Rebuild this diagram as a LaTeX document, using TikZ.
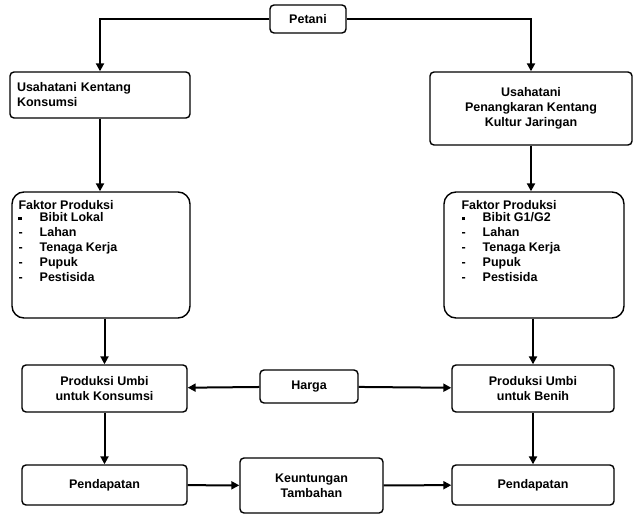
\documentclass[tikz,border=0pt]{standalone}
\usepackage{fontspec}
\setmainfont{Liberation Sans}
\usetikzlibrary{arrows.meta}
\newcommand{\mysq}{\rule[1pt]{3.5pt}{3.5pt}}
\begin{document}
\begin{tikzpicture}[x=1pt,y=-1pt,
  box/.style={draw,line width=1.4pt,rounded corners=4pt,align=center,font=\bfseries\fontsize{12.5}{15}\selectfont},
  txt/.style={align=left,inner sep=0pt,font=\bfseries\fontsize{12.5}{15}\selectfont},
  arr/.style={line width=2pt,-{Triangle[length=8pt,width=8pt]}}]
\useasboundingbox (0,0) rectangle (644,529);
\node[box,minimum width=76pt,minimum height=28pt] (pet) at (308,19) {Petani};
\node[box,minimum width=180pt,minimum height=46pt,align=left,text width=166pt] (uk) at (100,95) {Usahatani Kentang\\Konsumsi};
\node[box,minimum width=202pt,minimum height=73pt] (up) at (531,108.5) {Usahatani\\Penangkaran Kentang\\Kultur Jaringan};
\node[box,rounded corners=12pt,minimum width=178pt,minimum height=126pt] (fl) at (101,255) {};
\node[txt,anchor=north west] (flt) at ([xshift=7pt,yshift=-9pt]fl.north west) {Faktor Produksi\\
\begin{tabular}{@{}l@{\hspace{17pt}}l@{}}
\mysq & Bibit Lokal\\ - & Lahan\\ - & Tenaga Kerja\\ - & Pupuk\\ - & Pestisida
\end{tabular}};
\node[box,rounded corners=12pt,minimum width=180pt,minimum height=126pt] (fr) at (534,255) {};
\node[txt,anchor=north west] (frt) at ([xshift=18pt,yshift=-9pt]fr.north west) {Faktor Produksi\\
\begin{tabular}{@{}l@{\hspace{17pt}}l@{}}
\mysq & Bibit G1/G2\\ - & Lahan\\ - & Tenaga Kerja\\ - & Pupuk\\ - & Pestisida
\end{tabular}};
\node[box,minimum width=165pt,minimum height=47pt] (pl) at (104.5,388.5) {Produksi Umbi\\untuk Konsumsi};
\node[box,minimum width=98pt,minimum height=33pt] (h) at (309,386.5) {Harga};
\node[box,minimum width=162pt,minimum height=47pt] (pr) at (533,388.5) {Produksi Umbi\\untuk Benih};
\node[box,minimum width=165pt,minimum height=40pt] (dl) at (104.5,485) {Pendapatan};
\node[box,minimum width=143pt,minimum height=55pt] (k) at (311.5,485.5) {Keuntungan\\Tambahan};
\node[box,minimum width=162pt,minimum height=40pt] (dr) at (533,485) {Pendapatan};
\draw[arr] (pet.west) -| (uk.north);
\draw[arr] (pet.east) -| (up.north);
\draw[arr] (uk) -- (uk|-fl.north);
\draw[arr] (up) -- (up|-fr.north);
\draw[arr] (fl.south-|pl) -- (pl.north);
\draw[arr] (fr.south-|pr) -- (pr.north);
\draw[arr] (h) -- (pl);
\draw[arr] (h) -- (pr);
\draw[arr] (pl) -- (dl);
\draw[arr] (pr) -- (dr);
\draw[arr] (dl) -- (k);
\draw[arr] (k) -- (dr);
\end{tikzpicture}
\end{document}
